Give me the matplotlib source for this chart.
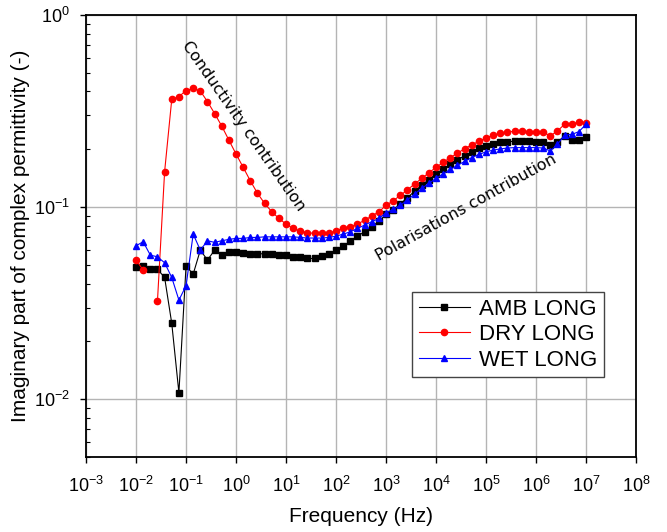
import numpy as np
import matplotlib
matplotlib.use("Agg")
import matplotlib.pyplot as plt

plt.rcParams['font.family'] = ['Liberation Sans', 'DejaVu Sans']
plt.rcParams['mathtext.fontset'] = 'custom'
plt.rcParams['mathtext.rm'] = 'Liberation Sans'
plt.rcParams['mathtext.it'] = 'Liberation Sans:italic'

# frequency sweep, 7 points per decade from 1e-2 to 1e7 Hz
freq = 10 ** (np.arange(64) / 7.0 - 2)

amb = [0.0485, 0.0493, 0.0475, 0.0475, 0.043, 0.0248, 0.0108, 0.0493,
       0.0448, 0.0597, 0.053, 0.0597, 0.0562, 0.0585, 0.0585, 0.0578,
       0.0569, 0.0569, 0.0573, 0.0569, 0.056, 0.056, 0.0547, 0.0547,
       0.054, 0.054, 0.0556, 0.0569, 0.0597, 0.0626, 0.0665, 0.0706,
       0.0744, 0.079, 0.0845, 0.0916, 0.0965, 0.104, 0.112, 0.121,
       0.130, 0.139, 0.149, 0.158, 0.167, 0.176, 0.185, 0.194,
       0.202, 0.208, 0.213, 0.217, 0.219, 0.220, 0.220, 0.220,
       0.219, 0.219, 0.210, 0.219, 0.234, 0.223, 0.223, 0.2325]

dry = [0.053, 0.047, np.nan, 0.0325, 0.153, 0.364, 0.376, 0.404,
       0.415, 0.402, 0.354, 0.307, 0.264, 0.223, 0.189, 0.161,
       0.137, 0.118, 0.1045, 0.0946, 0.0873, 0.0815, 0.0774, 0.075,
       0.0735, 0.073, 0.073, 0.0735, 0.075, 0.078, 0.079, 0.0815,
       0.0855, 0.0898, 0.0946, 0.102, 0.108, 0.115, 0.123, 0.132,
       0.141, 0.151, 0.161, 0.171, 0.181, 0.191, 0.201, 0.211,
       0.220, 0.229, 0.237, 0.242, 0.246, 0.248, 0.248, 0.247,
       0.246, 0.245, 0.235, 0.249, 0.270, 0.270, 0.278, 0.275]

wet = [0.0629, 0.066, 0.0562, 0.0551, 0.0513, 0.043, 0.0328, 0.0389,
       0.0723, 0.0597, 0.0668, 0.0655, 0.0668, 0.0679, 0.0687, 0.0687,
       0.0695, 0.0695, 0.070, 0.070, 0.070, 0.070, 0.070, 0.0695,
       0.069, 0.069, 0.069, 0.0695, 0.0706, 0.0723, 0.0744, 0.0774,
       0.0806, 0.0839, 0.0873, 0.0934, 0.0973, 0.102, 0.109, 0.117,
       0.125, 0.133, 0.141, 0.149, 0.157, 0.165, 0.173, 0.181,
       0.188, 0.194, 0.198, 0.201, 0.203, 0.204, 0.204, 0.204,
       0.204, 0.203, 0.196, 0.212, 0.237, 0.239, 0.247, 0.270]

fig = plt.figure(figsize=(6.67, 5.32), dpi=100)
ax = fig.add_axes([0.129, 0.141, 0.8246, 0.8308])

ax.plot(freq, amb, color='black', lw=0.8, marker='s', ms=3.8, label='AMB LONG')
ax.plot(freq, dry, color='red', lw=0.8, marker='o', ms=4.5, label='DRY LONG')
ax.plot(freq, wet, color='blue', lw=0.8, marker='^', ms=4.7, label='WET LONG')

ax.set_xscale('log')
ax.set_yscale('log')
ax.set_xlim(1e-3, 1e8)
ax.set_ylim(5e-3, 1)
ax.set_xticks(10.0 ** np.arange(-3, 9))
ax.set_yticks([1e-2, 1e-1, 1e0])

ax.grid(True, which='major', color='#b4b4b4', lw=1)
ax.set_axisbelow(True)
ax.tick_params(which='major', direction='out', length=4.5, width=1,
               labelsize=13, top=False, right=False)
ax.tick_params(axis='x', which='major', pad=9)
ax.tick_params(axis='y', which='major', pad=7)
ax.tick_params(which='minor', direction='in', length=3, width=0.8,
               top=False, right=False)
for s in ax.spines.values():
    s.set_linewidth(1.3)

ax.set_xlabel('Frequency (Hz)', fontsize=15, labelpad=8)
ax.set_ylabel('Imaginary part of complex permittivity (-)', fontsize=15, labelpad=3)

ax.text(1.38, 0.264, 'Conductivity contribution', rotation=-55,
        rotation_mode='anchor', ha='center', va='center', fontsize=11.5,
        family='DejaVu Sans')
ax.text(4e4, 0.1, 'Polarisations contribution', rotation=29,
        rotation_mode='anchor', ha='center', va='center', fontsize=11.5,
        family='DejaVu Sans')

leg = ax.legend(loc='upper left', bbox_to_anchor=(0.593, 0.373), borderaxespad=0,
                fontsize=16, handlelength=2.3, handletextpad=0.4,
                labelspacing=0.2, borderpad=0.3, fancybox=False,
                framealpha=1, edgecolor='#444444')
leg.get_frame().set_linewidth(1)

fig.savefig('out.png', dpi=100)
